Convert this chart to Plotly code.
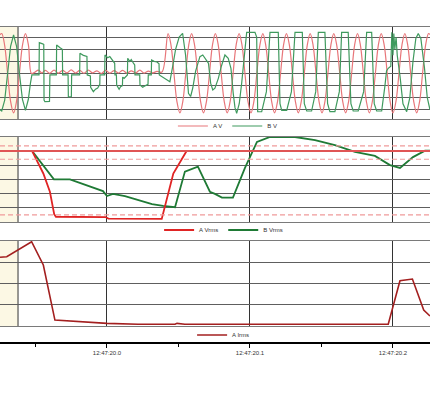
import plotly.graph_objects as go

# ---- data (time in ms after 12:47:20.000) ----
x_left, x_right = -74.8, 225.9
tick_ms = [0, 100, 200]
tick_labels = ["12:47:20.0", "12:47:20.1", "12:47:20.2"]
minor_ms = [-50, 50, 150]
cursor_ms = -62.2

# Panel 1: instantaneous voltages (V)
av_t = [-74.8, -73.6, -71.55, -69.5, -67.4, -65.3, -63.25, -61.2, -59.1, -57.0, -54.9, -52.8,
        -50.5, -48, -45.5, -43, -40, -37, -34, -31, -28, -25, -22, -19, -16, -13, -10, -7, -4, -1,
        2, 5, 8, 11, 14, 17, 20, 23, 26, 29, 32, 35, 38.5,
        42.7, 44.8, 46.85, 48.9, 51.0, 53.05, 55.1, 57.15, 59.2, 61.3, 63.4, 65.45, 67.5, 69.6,
        71.7, 73.75, 75.8, 77.85, 79.9, 82.0, 84.1, 86.15, 88.2, 90.3, 92.4, 94.45, 96.5, 98.6,
        100.7, 102.75, 104.8, 106.9, 109.0, 111.05, 113.1, 115.15, 117.2, 119.3, 121.4, 123.45,
        125.5, 127.6, 129.7, 131.75, 133.8, 135.9, 138.0, 140.05, 142.1, 144.15, 146.2, 148.3,
        150.4, 152.45, 154.5, 156.55, 158.6, 160.7, 162.8, 164.85, 166.9, 169.0, 171.1, 173.15,
        175.2, 177.25, 179.3, 181.4, 183.5, 185.6, 187.7, 189.75, 191.8, 193.9, 196.0, 198.0,
        200.0, 202.1, 204.2, 206.25, 208.3, 210.35, 212.4, 214.5, 216.6, 218.65, 220.7, 222.8,
        224.9, 226.0]
av_v = [320, 330, 233, 0, -230, -325, -230, 0, 233, 330, 233, 0,
        10, 28, 5, 25, 2, 28, 3, 26, 5, 30, 4, 25, 2, 28, 5, 22, 0, 25,
        3, 24, 4, 26, 2, 22, 5, 28, 3, 20, 5, 18, 12,
        330, 233, 0, -230, -325, -230, 0, 233, 330, 233, 0, -230, -325, -230,
        0, 233, 330, 233, 0, -230, -325, -230, 0, 233, 330, 233, 0, -230,
        -325, -230, 0, 233, 330, 233, 0, -230, -325, -230, 0, 233,
        330, 233, 0, -230, -325, -230, 0, 233, 330, 233, 0, -230,
        -325, -230, 0, 233, 330, 233, 0, -230, -325, -230, 0, 233,
        330, 233, 0, -230, -325, -230, 0, 233, 330, 233, 0, -230,
        -325, -230, 0, 233, 330, 233, 0, -230, -325, -230, 0, 233,
        330, 320]

bv_t = [-74.8, -73.6, -71.5, -69.5, -67.4, -65.3, -63.2, -61.2, -59.1, -57.0, -55.0, -53.5, -52.5,
        -47.5, -47.3, -45.0, -44.2, -44.0, -43.4, -40.2, -39.9, -35.4, -35.2, -33.0, -31.2, -31.0,
        -27.2, -27.0, -24.9, -24.7, -19.1, -18.9, -16.5, -14.0, -13.8, -11.6, -11.4, -9.5, -8.0,
        -6.5, -5.0, -4.9, -1.6, -1.4, 0.5, 2.0, 3.5, 5.4, 5.6, 6.6, 6.8, 8.5, 9.5, 10.8, 11.0,
        12.0, 14.3, 14.5, 16.0, 17.0, 18.5, 19.4, 19.6, 22.9, 23.1, 25.0, 27.0, 28.7, 28.9,
        31.0, 31.2, 33.0, 35.0, 36.4, 36.6, 38.5, 41.0, 44.0, 46.0, 48.0, 50.5, 52.9, 55.0,
        57.0, 58.5, 60.0, 62.0, 65.0, 67.0, 69.0, 71.0, 72.5, 74.0, 75.5, 77.9, 80.0, 82.5,
        84.8, 86.0, 86.7, 88.3, 89.5, 90.7, 92.5, 94.2, 96.0, 97.7,
        103.5, 104.7, 105.4, 108.2, 111.5, 113.0, 114.0,
        119.8, 121.0, 122.2, 125.7, 129.0, 130.5, 131.5,
        136.6, 138.0, 139.7, 143.1, 146.0, 147.0, 147.8,
        152.4, 154.3, 155.9, 159.4, 162.5, 163.4, 164.1,
        168.7, 170.6, 172.2, 175.7, 179.5, 180.8, 181.6,
        185.1, 186.9, 188.6, 192.1,
        194.4, 195.5, 196.7, 198.5, 199.2, 200.0, 200.6, 201.3, 202.2, 203.0, 205.0, 207.0,
        209.6, 211.8, 214.0, 216.0, 217.7, 219.5, 222.0, 224.0, 225.9]
bv_v = [-300, -310, -220, 0, 225, 318, 225, 0, -215, -305, -215, -80, -12,
        -12, 255, 245, 240, -220, -233, -230, -12, -12, 236, 215, 200, -12,
        -12, -192, -190, -12, -12, 167, 150, 140, -12, -20, -114, -150, -130,
        -120, -90, -12, -12, 153, 130, 140, 110, 84, -12, -12, -95, -130, -110, -100, -30,
        -40, -12, 126, 100, 115, 85, 70, -12, -12, -95, -114, -100, -90, -12,
        -12, 112, 100, 95, 80, -12, -25, -45, -68, 60, 200, 300, 332, 150,
        -164, -190, -120, 20, 139, 153, 120, 84, -80, -136, -122, -40, 60, 153,
        126, 84, 43, -164, -280, -329, -250, -81, 150, 340,
        340, 300, -316, -316, -150, 100, 340,
        340, -250, -305, -305, -150, 100, 340,
        340, -250, -310, -310, -150, 100, 340,
        340, -250, -315, -315, -150, 100, 340,
        340, -250, -310, -310, -150, 100, 340,
        340, -250, -310, -310,
        -100, 20, 43, 60, 340, 150, 330, 200, 300, 150, -30, -250,
        -316, -200, 100, 290, 330, 290, 50, -200, -300]

# Panel 2: RMS voltages (V)
avrms_t = [-69.2, -52.4, -44.5, -39.9, -36.9, -35.7, -1.0, 1.0, 38.3, 46.4, 55.7, 225.9]
avrms_v = [230, 230, 157, 98, 25, 17, 16, 11, 10, 157, 230, 230]
bvrms_t = [-74.8, -52.4, -37.1, -25.9, -2.8, 0.0, 4.2, 12.6, 31.5, 39.2, 47.6, 54.5, 63.6,
           72.0, 75.5, 80.4, 88.1, 96.5, 104.9, 114.0, 131.5, 145.5, 159.4, 173.4, 187.4,
           197.9, 204.9, 214.0, 222.4, 225.9]
bvrms_v = [230, 230, 138, 138, 100, 84, 91, 84, 58, 52, 48, 163, 179,
           98, 91, 79, 79, 175, 259, 275, 275, 265, 249, 227, 214,
           184, 175, 210, 231, 231]
vrms_nominal = 230
vrms_limits = [246, 203, 23]

# Panel 3: RMS current (A)
airms_t = [-74.8, -70.1, -52.7, -44.5, -36.4, -24.7, -13.3, 0.0, 21.7, 47.6, 49.0, 54.5,
           196.7, 204.9, 213.6, 221.5, 225.9]
airms_v = [64.7, 65.2, 79.3, 57.4, 5.6, 4.7, 4.0, 2.5, 1.6, 1.6, 2.5, 1.6,
           1.6, 42.6, 44.2, 15.1, 9.4]

# ---- figure ----
FONT = "Liberation Sans, Arial, sans-serif"
fig = go.Figure()

fig.add_trace(go.Scatter(x=av_t, y=av_v, name="A V", mode="lines",
                         line=dict(color="#E8767A", width=1.2, shape="spline"),
                         xaxis="x", yaxis="y", legend="legend", legendrank=1))
fig.add_trace(go.Scatter(x=bv_t, y=bv_v, name="B V", mode="lines",
                         line=dict(color="#3F9A5E", width=1.2),
                         xaxis="x", yaxis="y", legend="legend", legendrank=2))

fig.add_trace(go.Scatter(x=bvrms_t, y=bvrms_v, name="B Vrms", mode="lines",
                         line=dict(color="#1F7A35", width=1.8),
                         xaxis="x2", yaxis="y2", legend="legend2", legendrank=2))
fig.add_trace(go.Scatter(x=avrms_t, y=avrms_v, name="A Vrms", mode="lines",
                         line=dict(color="#E02424", width=1.8),
                         xaxis="x2", yaxis="y2", legend="legend2", legendrank=1))

fig.add_trace(go.Scatter(x=airms_t, y=airms_v, name="A Irms", mode="lines",
                         line=dict(color="#A31F1F", width=1.6),
                         xaxis="x3", yaxis="y3", legend="legend3"))
fig.add_trace(go.Scatter(x=[None], y=[None], mode="lines", xaxis="x4", yaxis="y3",
                         showlegend=False, hoverinfo="skip"))


def panel_x(anchor):
    return dict(range=[x_left, x_right], domain=[0, 1], anchor=anchor,
                showgrid=True, gridcolor="#333333", gridwidth=1,
                tickmode="array", tickvals=tick_ms, showticklabels=False, ticks="",
                showline=True, mirror=True, linecolor="#7a7a7a", linewidth=1,
                zeroline=False, fixedrange=True)


def panel_y(anchor, dom, rng, vals):
    return dict(domain=dom, range=rng, anchor=anchor, tickmode="array", tickvals=vals,
                showgrid=True, gridcolor="#5e5e5e", gridwidth=1,
                showticklabels=False, ticks="", zeroline=False, showline=False,
                fixedrange=True)


legend_common = dict(orientation="h", xanchor="center", yanchor="middle",
                     font=dict(family=FONT, size=6, color="#333333"),
                     bgcolor="rgba(0,0,0,0)", itemwidth=30, borderwidth=0)

fig.update_layout(
    width=430, height=400, autosize=False,
    margin=dict(l=0, r=0, t=0, b=0, pad=0),
    paper_bgcolor="white", plot_bgcolor="white",
    font=dict(family=FONT, size=6, color="#333333"),
    xaxis=panel_x("y"),
    xaxis2=panel_x("y2"),
    xaxis3=panel_x("y3"),
    xaxis4=dict(range=[x_left, x_right], domain=[0, 1], anchor="free", position=1 - 343 / 400,
                overlaying="x3", showgrid=False, zeroline=False,
                showline=True, linecolor="black", linewidth=2,
                ticks="outside", ticklen=4, tickwidth=1, tickcolor="black",
                tickmode="array", tickvals=tick_ms, ticktext=tick_labels,
                tickfont=dict(family=FONT, size=6, color="#333333"),
                minor=dict(tickmode="array", tickvals=minor_ms, ticks="outside", ticklen=3,
                           tickcolor="black", tickwidth=1, showgrid=False),
                fixedrange=True),
    yaxis=panel_y("x", [1 - 119 / 400, 1 - 27 / 400], [-376, 384],
                  [-300, -200, -100, 0, 100, 200, 300]),
    yaxis2=panel_y("x2", [1 - 222 / 400, 1 - 136.7 / 400], [0, 276],
                   [46, 92, 138, 184, 230]),
    yaxis3=panel_y("x3", [1 - 326 / 400, 1 - 241 / 400], [0, 80], [20, 40, 60]),
    legend=dict(legend_common, x=0.53, y=1 - 126 / 400),
    legend2=dict(legend_common, x=0.52, y=1 - 230 / 400),
    legend3=dict(legend_common, x=0.52, y=1 - 335 / 400),
    showlegend=True,
)

shapes = []
for xr, yr in [("x", "y"), ("x2", "y2"), ("x3", "y3")]:
    shapes.append(dict(type="rect", xref=xr, yref=yr + " domain", x0=x_left - 20, x1=cursor_ms,
                       y0=0, y1=1, fillcolor="#FCF8E4", line=dict(width=0), layer="below"))
    shapes.append(dict(type="line", xref=xr, yref=yr + " domain", x0=cursor_ms, x1=cursor_ms,
                       y0=0, y1=1, line=dict(color="#333333", width=1), layer="below"))

shapes.append(dict(type="line", xref="x2 domain", yref="y2", x0=0, x1=1,
                   y0=vrms_nominal, y1=vrms_nominal, line=dict(color="#E05555", width=2)))
for lim in vrms_limits:
    shapes.append(dict(type="line", xref="x2 domain", yref="y2", x0=0, x1=1, y0=lim, y1=lim,
                       line=dict(color="#F09A9A", width=1.2, dash="5px,3px")))
fig.update_layout(shapes=shapes)

fig.write_html("out.html")
